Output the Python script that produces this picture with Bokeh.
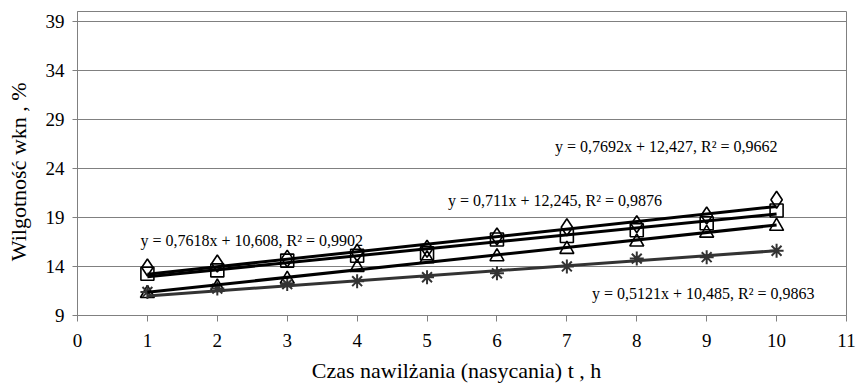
from bokeh.plotting import figure
from bokeh.models import FixedTicker, Label, Range1d
from bokeh.embed import file_html
from bokeh.resources import INLINE

# ---- data ----
t_hours = [1, 2, 3, 4, 5, 6, 7, 8, 9, 10]
w_diamond = [13.9, 14.3, 14.8, 15.4, 15.8, 17.05, 18.0, 18.3, 19.2, 20.8]
w_square = [13.25, 13.6, 14.6, 15.1, 15.35, 16.75, 17.1, 17.7, 18.4, 19.7]
w_triangle = [11.25, 11.9, 12.7, 13.9, 14.8, 15.0, 15.75, 16.5, 17.4, 18.1]
w_asterisk = [11.4, 11.75, 12.2, 12.5, 12.9, 13.3, 14.0, 14.8, 14.95, 15.6]

trend_slopes = [0.7692, 0.711, 0.7618, 0.5121]
trend_intercepts = [12.427, 12.245, 10.608, 10.485]
trend_labels = [
    "y = 0,7692x + 12,427, R\u00b2 = 0,9662",
    "y = 0,711x + 12,245,  R\u00b2 = 0,9876",
    "y = 0,7618x + 10,608, R\u00b2 = 0,9902",
    "y = 0,5121x + 10,485, R\u00b2 = 0,9863",
]
label_x = [6.83, 5.30, 0.90, 7.36]
label_y = [26.25, 20.75, 16.65, 11.25]

x_ticks = list(range(0, 12))
y_ticks = [9, 14, 19, 24, 29, 34, 39]
x_title = "Czas nawilżania (nasycania)  t ,  h"
y_title = "Wilgotność   wkn ,  %"

SERIF = "Liberation Serif"
GRID = "#808080"

p = figure(width=856, height=388, output_backend="svg", toolbar_location=None,
           x_range=Range1d(0, 11), y_range=Range1d(9, 40),
           min_border_left=77, min_border_right=10, min_border_top=11, min_border_bottom=73)
p.outline_line_color = GRID
p.outline_line_width = 1
p.background_fill_color = "white"
p.border_fill_color = "white"

p.xgrid.grid_line_color = None
p.ygrid.grid_line_color = GRID
p.ygrid.grid_line_width = 1

p.xaxis.ticker = FixedTicker(ticks=x_ticks)
p.yaxis.ticker = FixedTicker(ticks=y_ticks)
for ax in (p.xaxis[0], p.yaxis[0]):
    ax.axis_line_color = GRID
    ax.major_tick_line_color = GRID
    ax.minor_tick_line_color = None
    ax.major_tick_in = 0
    ax.major_label_text_font = SERIF
    ax.major_label_text_font_size = "19px"
    ax.major_label_text_color = "black"
    ax.axis_label_text_font = SERIF
    ax.axis_label_text_font_style = "normal"
    ax.axis_label_text_color = "black"
p.xaxis.major_tick_out = 6
p.yaxis.major_tick_out = 5
p.xaxis.major_label_standoff = 12
p.yaxis.major_label_standoff = 8

p.xaxis.axis_label = x_title
p.xaxis.axis_label_text_font_size = "22px"
p.xaxis.axis_label_standoff = 8
p.yaxis.axis_label = y_title
p.yaxis.axis_label_text_font_size = "22px"
p.yaxis.axis_label_standoff = 12

# markers
p.scatter(t_hours, w_diamond, marker="diamond", size=17, fill_color=None,
          line_color="black", line_width=1.6)
p.scatter(t_hours, w_square, marker="square", size=13, fill_color=None,
          line_color="black", line_width=1.6)
p.scatter(t_hours, w_triangle, marker="triangle", size=14, fill_color=None,
          line_color="black", line_width=1.6)
p.scatter(t_hours, w_asterisk, marker="asterisk", size=14,
          line_color="#333333", line_width=2)

# trend lines from the displayed regression equations
line_colors = ["black", "black", "black", "#333333"]
for a, b, c in zip(trend_slopes, trend_intercepts, line_colors):
    xs = [t_hours[0], t_hours[-1]]
    ys = [a * xv + b for xv in xs]
    p.line(xs, ys, line_color=c, line_width=3)

for txt, lx, ly in zip(trend_labels, label_x, label_y):
    p.add_layout(Label(x=lx, y=ly, text=txt, text_font=SERIF, text_font_size="16px",
                       text_baseline="middle", text_align="left", text_color="black"))

open("out.html", "w").write(file_html(p, INLINE))
